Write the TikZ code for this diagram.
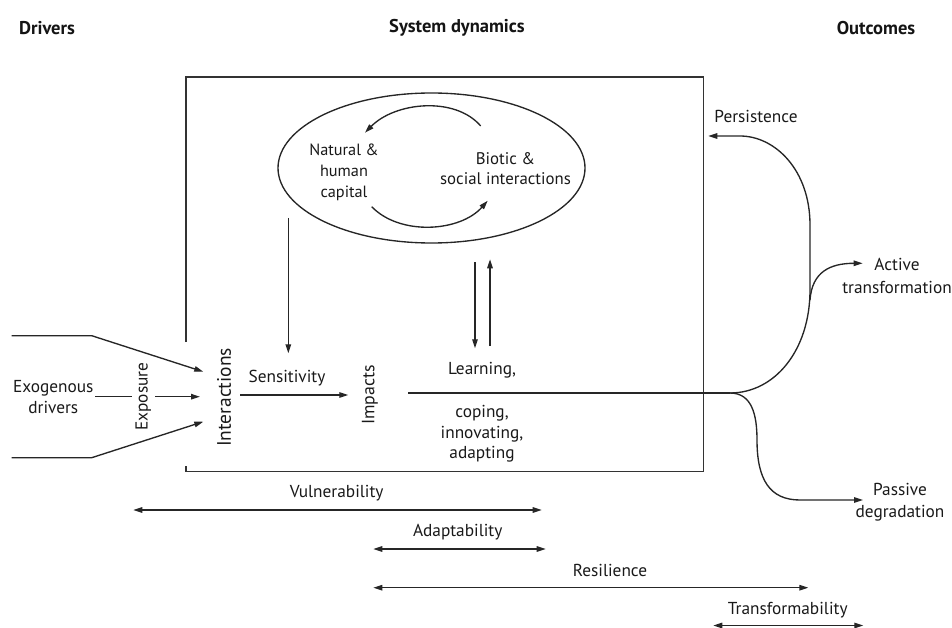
\documentclass[tikz,border=0pt]{standalone}
\usepackage{fontspec}
\setmainfont{PT Sans}
\usetikzlibrary{arrows.meta,shapes.geometric}
\begin{document}
\begin{tikzpicture}[x=1pt,y=-1pt,
  ln/.style={line width=1.35pt, draw=black!85},
  arr/.style={ln, -{Triangle[length=9pt,width=5.5pt]}},
  darr/.style={ln, {Triangle[length=9pt,width=5.5pt]}-{Triangle[length=9pt,width=5.5pt]}},
  lbl/.style={font=\fontsize{17.3}{20.7}\selectfont, text=black!90, align=center, inner sep=0pt},
  ttl/.style={font=\fontsize{18.5}{20}\selectfont\bfseries, text=black!92, inner sep=0pt}]
\useasboundingbox (0,0) rectangle (952,628);

% titles
\node[ttl] (tdrv) at (47,28) {Drivers};
\node[ttl] (tsys) at (457,28) {System dynamics};
\node[ttl] (tout) at (876,28) {Outcomes};

% system box (gap on left for Interactions)
\draw[line width=1.5pt, black!80] (186,342) -- (186,77) -- (703.3,77) -- (703.3,471.7) -- (186,471.7) -- (186,465.7);

% ellipse
\node[ellipse, draw, line width=1.35pt, black!85, minimum width=307, minimum height=150, inner sep=0pt] (cyc) at (431.5,168) {};
\node[lbl, font=\fontsize{16.3}{21}\selectfont] (nat) at (344,172) {Natural \&\\human\\capital};
\node[lbl, font=\fontsize{16.8}{20}\selectfont] (bio) at (505.5,168.3) {Biotic \&\\social interactions};
\coordinate (a1s) at (480.7,126);
\coordinate (a1e) at (365,132.7);
\coordinate (a2s) at (371.7,206.7);
\coordinate (a2e) at (487.7,200.7);
\draw[arr] (a1s) .. controls (455,96) and (395,102) .. (a1e);
\draw[arr] (a2s) .. controls (400,236) and (460,232) .. (a2e);

% left side
\node[lbl] (exo) at (53.3,397) {Exogenous\\drivers};
\node[lbl, rotate=90] (expo) at (143.3,396.7) {Exposure};
\node[lbl, rotate=90, font=\fontsize{19.5}{22}\selectfont] (inter) at (224,397.5) {Interactions};
\node[lbl] (sens) at (287,378.3) {Sensitivity};
\node[lbl, rotate=90, font=\fontsize{17.8}{20}\selectfont] (imp) at (370,395) {Impacts};

\coordinate (ft0) at (11.7,335.7);
\coordinate (ft1) at (91.7,335.7);
\coordinate (ft2) at (203.3,371.7);
\coordinate (fb0) at (11.7,457.7);
\coordinate (fb1) at (91.7,457.7);
\coordinate (fb2) at (203.3,421.7);
\draw[arr] (ft0) -- (ft1) -- (ft2);
\draw[arr] (fb0) -- (fb1) -- (fb2);
\coordinate (em1) at (95,396.7);
\coordinate (em2) at (132,396.7);
\coordinate (em3) at (155,396.7);
\coordinate (em4) at (200,396.7);
\draw[ln] (em1) -- (em2);
\draw[arr] (em3) -- (em4);
\coordinate (s1) at (240,395);
\coordinate (s2) at (348.3,395);
\draw[arr] (s1) -- (s2);
\coordinate (v1) at (288.3,218);
\coordinate (v2) at (288.3,353.3);
\draw[arr] (v1) -- (v2);

% learning
\node[lbl] (learn) at (482,370) {Learning,};
\node[lbl] (cope) at (482,434) {coping,\\innovating,\\adapting};
\coordinate (d1) at (475,262);
\coordinate (d2) at (475,348.3);
\coordinate (u1) at (490,346);
\coordinate (u2) at (490,259.3);
\draw[arr] (d1) -- (d2);
\draw[arr] (u1) -- (u2);

% main line and outcomes
\coordinate (m0) at (408.3,393);
\coordinate (split) at (730,393);
\draw[ln] (m0) -- (split);
\node[lbl] (pers) at (756,116.7) {Persistence};
\node[lbl, font=\fontsize{17.3}{23}\selectfont] (act) at (897,275.5) {Active\\transformation};
\node[lbl, font=\fontsize{17.3}{21.6}\selectfont] (pas) at (900,502.5) {Passive\\degradation};
\coordinate (ptip) at (708.3,136);
\coordinate (atip) at (862.7,263.3);
\coordinate (dtip) at (863,500);
\draw[arr] (split) .. controls (775,393) and (810,350) .. (810,290) -- (810,225)
  .. controls (810,170) and (775,136) .. (740,136) -- (ptip);
\draw[arr] (810,300) .. controls (812,272) and (830,263.3) .. (atip);
\draw[arr] (split) .. controls (752,393) and (757,415) .. (757,440)
  .. controls (757,480) and (770,500) .. (800,500) -- (dtip);

% bottom ranges
\node[lbl] (vul) at (336.7,492.7) {Vulnerability};
\node[lbl] (adp) at (457.7,532.3) {Adaptability};
\node[lbl] (res) at (610,570.7) {Resilience};
\node[lbl] (trf) at (787.7,610) {Transformability};
\coordinate (vl) at (133.3,510); \coordinate (vr) at (541.7,510);
\coordinate (al) at (373.3,549); \coordinate (ar) at (545.7,549);
\coordinate (rl) at (373.3,587.7); \coordinate (rr) at (808.3,587.7);
\coordinate (tl) at (713.3,625.5); \coordinate (tr) at (863.3,625.5);
\draw[darr] (vl) -- (vr);
\draw[darr] (al) -- (ar);
\draw[darr] (rl) -- (rr);
\draw[darr] (tl) -- (tr);
\end{tikzpicture}
\end{document}
